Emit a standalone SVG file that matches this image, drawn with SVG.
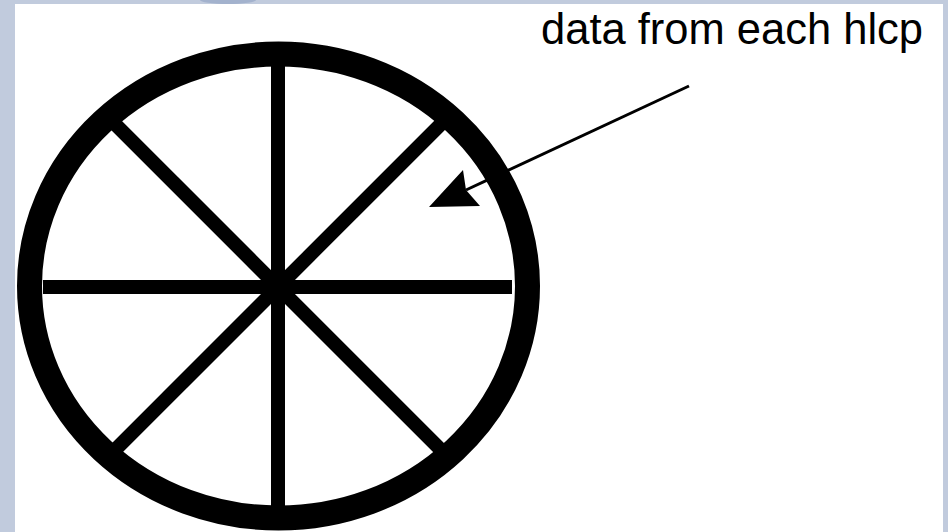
<svg xmlns="http://www.w3.org/2000/svg" width="948" height="532" viewBox="0 0 948 532">
  <style>
    .spoke { stroke: #000; stroke-width: 14; stroke-linecap: butt; fill: none; }
    .label { font-family: "Liberation Sans", Arial, sans-serif; font-size: 43.5px; fill: #000; }
  </style>
  <g id="background">
    <rect x="0" y="0" width="948" height="532" fill="#c1cbdd"/>
    <ellipse cx="228" cy="0" rx="28" ry="4" fill="#a3b2cd"/>
    <rect x="15" y="4" width="928" height="528" fill="#fff"/>
  </g>
  <g id="wheel">
    <ellipse cx="278.5" cy="286" rx="249" ry="232" fill="none" stroke="#000" stroke-width="25"/>
    <line class="spoke" x1="43" y1="287" x2="512" y2="287"/>
    <line class="spoke" x1="278" y1="60" x2="278" y2="510"/>
    <line class="spoke" x1="115" y1="124" x2="441" y2="450"/>
    <line class="spoke" x1="441" y1="124" x2="115" y2="450"/>
  </g>
  <g id="label">
    <text class="label" x="541" y="44">data from each hlcp</text>
  </g>
  <g id="connectors">
    <line x1="689" y1="86" x2="466" y2="190" stroke="#000" stroke-width="3"/>
    <polygon points="429,207 463,170 466,190 480,206" fill="#000"/>
  </g>
</svg>
